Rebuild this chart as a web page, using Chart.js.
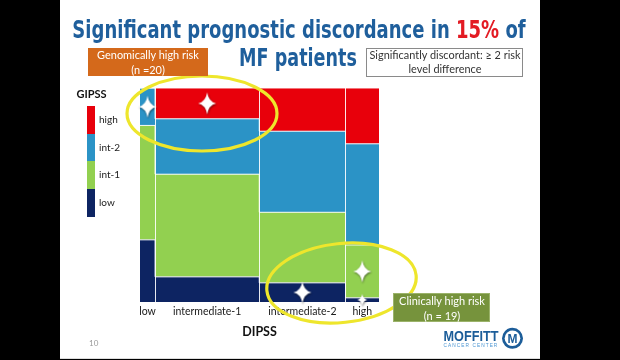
<!DOCTYPE html>
<html><head><meta charset="utf-8">
<script src="https://cdn.jsdelivr.net/npm/chart.js@4/dist/chart.umd.min.js"></script>
<style>
html,body{margin:0;padding:0;background:#000;width:620px;height:360px;overflow:hidden}
#slide{position:absolute;left:60px;top:0;width:480px;height:358px;background:#fff;border-bottom:1px solid #ddd}
#wrap{position:absolute;left:0;top:0;width:620px;height:360px}
.abs{position:absolute;white-space:nowrap}
.title{font-family:"Liberation Sans Narrow","DejaVu Sans Condensed","Roboto",sans-serif;font-weight:bold;font-size:24px;line-height:24px;color:#1f5f9c}
.box{position:absolute;box-sizing:border-box;text-align:center}
.boxtxt{position:absolute;left:50%;white-space:nowrap;text-align:center;font-family:Lato,"Open Sans",sans-serif}
.leglab{position:absolute;font-family:Lato,sans-serif;font-size:10px;color:#222;line-height:12px;white-space:nowrap}
svg{position:absolute;left:0;top:0;pointer-events:none}
</style></head><body>
<div id="slide"></div>
<div id="wrap"><canvas id="c" width="620" height="360"></canvas></div>
<div id="legend"></div>
<div class="abs title fit" data-cx="299" data-w="453" style="top:18px">Significant prognostic discordance in <span style="color:#e31b23">15%</span> of</div>
<div class="abs title fit" data-cx="298" data-w="118" style="top:46px">MF patients</div>
<svg width="620" height="360">
  <ellipse cx="202" cy="113.5" rx="75" ry="37.5" fill="none" stroke="#eee62c" stroke-width="3.2"/>
  <ellipse cx="341.5" cy="283" rx="75" ry="39.5" fill="none" stroke="#eee62c" stroke-width="3.2" transform="rotate(-6 341.5 283)"/>
</svg>
<div class="box" style="left:88px;top:48px;width:120px;height:28px;background:#d4691b">
  <div class="boxtxt fit" data-w="102" style="top:0;color:#fff;font-size:12px;line-height:14.5px">Genomically high risk<br>(n =20)</div>
</div>
<div class="box" style="left:366px;top:47.5px;width:157px;height:29px;background:#fff;border:1px solid #8a8a8a">
  <div class="boxtxt fit" data-w="151" style="top:-1px;color:#333;font-size:12px;line-height:14.5px">Significantly discordant: ≥ 2 risk<br>level difference</div>
</div>
<div class="box" style="left:393px;top:293px;width:97px;height:29px;background:#76933c;border:1px solid #9bb36a">
  <div class="boxtxt fit" data-w="86" style="top:-1px;color:#fff;font-size:12px;line-height:15px">Clinically high risk<br>(n = 19)</div>
</div>
<div class="abs fit" data-cx="470.5" data-w="55" style="top:328px;font-family:'Liberation Sans',Arial,sans-serif;font-weight:bold;font-size:15px;line-height:15px;color:#1c5d99">MOFFITT</div>
<div class="abs fit" data-cx="470.5" data-w="55" style="top:343px;font-family:'Liberation Sans',Arial,sans-serif;font-size:4.5px;line-height:5px;letter-spacing:1px;color:#4a95d2">CANCER CENTER</div>
<svg width="620" height="360">
  <circle cx="512.5" cy="338.3" r="10.5" fill="#1c5d99"/>
  <circle cx="512.5" cy="338.3" r="7.8" fill="#fff"/>
  <text x="512.5" y="342.6" text-anchor="middle" font-family="Liberation Sans, Arial, sans-serif" font-weight="bold" font-size="12" fill="#1c5d99">M</text>
</svg>
<div class="abs" style="left:89px;top:339px;font-family:Lato,sans-serif;font-size:8px;line-height:8px;color:#9a9a9a">10</div>
<script>
// ---- data ----
const dipssCategories = ['low', 'intermediate-1', 'intermediate-2', 'high'];
const dipssShare = [6.3, 43.6, 36.1, 14.0];          // % of patients in each DIPSS column
const gipssLevels = ['low', 'int-1', 'int-2', 'high'];
const gipssLow  = [29.0, 11.7,  8.9,  1.9];           // % within each DIPSS column
const gipssInt1 = [53.5, 48.0, 33.0, 24.7];
const gipssInt2 = [17.5, 25.9, 37.9, 47.3];
const gipssHigh = [ 0.0, 14.4, 20.2, 26.1];
const discordantCells = [[0, 2], [1, 3], [2, 0], [3, 1], [3, 0]]; // [DIPSS index, GIPSS index]

// ---- styles ----
const gipssColors = ['#0d2462', '#92d050', '#2b93c6', '#e8000b'];
const series = [gipssLow, gipssInt1, gipssInt2, gipssHigh];

// column boundaries and centers
const bounds = [0];
dipssShare.forEach(v => bounds.push(bounds[bounds.length - 1] + v));
const total = bounds[bounds.length - 1];
const centers = dipssShare.map((v, i) => (bounds[i] + bounds[i + 1]) / 2);

function stepData(arr) {
  const d = arr.map((v, i) => ({ x: bounds[i], y: v }));
  d.push({ x: total, y: arr[arr.length - 1] });
  return d;
}

function makeStar(h) {
  const w = Math.round(h * 0.8);
  const c = document.createElement('canvas');
  c.width = w + 6; c.height = h + 6;
  const g = c.getContext('2d');
  const cx = c.width / 2, cy = c.height / 2, r = h / 2, rw = w / 2, k = h * 0.07;
  g.shadowColor = 'rgba(0,0,0,0.55)'; g.shadowBlur = 2; g.shadowOffsetX = 0.5; g.shadowOffsetY = 1;
  g.beginPath();
  g.moveTo(cx, cy - r);
  g.quadraticCurveTo(cx + k, cy - k, cx + rw, cy);
  g.quadraticCurveTo(cx + k, cy + k, cx, cy + r);
  g.quadraticCurveTo(cx - k, cy + k, cx - rw, cy);
  g.quadraticCurveTo(cx - k, cy - k, cx, cy - r);
  g.closePath();
  g.fillStyle = '#ffffff';
  g.fill();
  return c;
}
const bigStar = makeStar(22), smallStar = makeStar(12);

const starData = discordantCells.map(([c, g]) => {
  let base = 0;
  for (let k = 0; k < g; k++) base += series[k][c];
  return { x: centers[c], y: base + series[g][c] / 2, seg: series[g][c] };
});

const datasets = series.map((arr, i) => ({
  type: 'line',
  label: gipssLevels[i],
  data: stepData(arr),
  stepped: true,
  fill: i === 0 ? 'origin' : '-1',
  backgroundColor: gipssColors[i],
  borderColor: 'rgba(255,255,255,0.9)',
  borderWidth: 1,
  pointRadius: 0,
  xAxisID: 'x',
  yAxisID: 'y'
}));
datasets.push({
  type: 'line',
  label: 'discordant',
  data: starData,
  showLine: false,
  pointRadius: 5,
  pointStyle: ctx => (ctx.raw && ctx.raw.seg < 5 ? smallStar : bigStar),
  clip: false,
  xAxisID: 'x',
  yAxisID: 'y2'
});

new Chart(document.getElementById('c'), {
  type: 'line',
  data: { datasets },
  options: {
    responsive: false,
    animation: false,
    events: [],
    layout: { padding: { left: 140, right: 241, top: 88, bottom: 20.5 } },
    plugins: { legend: { display: false }, tooltip: { enabled: false }, filler: { drawTime: 'beforeDatasetsDraw' } },
    scales: {
      x: {
        type: 'linear', min: 0, max: total, position: 'bottom',
        afterBuildTicks: s => { s.ticks = bounds.slice(1, -1).map(v => ({ value: v })); },
        afterFit: s => { s.height = 0; },
        grid: { color: 'rgba(255,255,255,0.9)', lineWidth: 1, drawTicks: false, z: 1 },
        border: { display: false },
        ticks: { display: false }
      },
      xl: {
        type: 'linear', min: 0, max: total, position: 'bottom',
        afterBuildTicks: s => { s.ticks = centers.map(v => ({ value: v })); },
        grid: { display: false, drawTicks: false },
        border: { display: false },
        ticks: {
          autoSkip: false, maxRotation: 0, padding: 3, color: '#1a1a1a',
          font: { family: 'Lato', size: 10.5 },
          callback: (v, i) => dipssCategories[i]
        },
        title: { display: true, text: 'DIPSS', color: '#111', font: { family: 'Lato', size: 12.5, weight: 'bold' }, padding: { top: 4, bottom: 0 } }
      },
      y: { stacked: true, min: 0, max: 100, display: false },
      y2: { min: 0, max: 100, display: false }
    }
  }
});

// legend (GIPSS), top = high
const leg = document.getElementById('legend');
const lt = document.createElement('div');
lt.className = 'abs'; lt.textContent = 'GIPSS';
lt.style.cssText = 'left:76.5px;top:87px;font-family:Lato,sans-serif;font-weight:bold;font-size:11px;line-height:13px;color:#111';
leg.appendChild(lt);
const legTop = 106, legH = 27.7;
[...gipssLevels].reverse().forEach((lab, j) => {
  const idx = gipssLevels.length - 1 - j;
  const sw = document.createElement('div');
  sw.style.cssText = `position:absolute;left:86.5px;top:${legTop + j * legH}px;width:8px;height:${legH}px;background:${gipssColors[idx]}`;
  leg.appendChild(sw);
  const tx = document.createElement('div');
  tx.className = 'leglab'; tx.textContent = lab;
  tx.style.left = '99px'; tx.style.top = (legTop + j * legH + legH / 2 - 7) + 'px';
  leg.appendChild(tx);
});

function fitAll() {
  document.querySelectorAll('.fit').forEach(el => {
    el.style.transform = 'none';
    const w = el.offsetWidth, tw = +el.dataset.w;
    const k = tw / w;
    if (!el.classList.contains('boxtxt')) el.style.left = el.dataset.cx + 'px';
    el.style.transform = `translateX(-50%) scaleX(${k})`;
  });
}
fitAll();
if (document.fonts && document.fonts.ready) document.fonts.ready.then(fitAll);
</script>
</body></html>
